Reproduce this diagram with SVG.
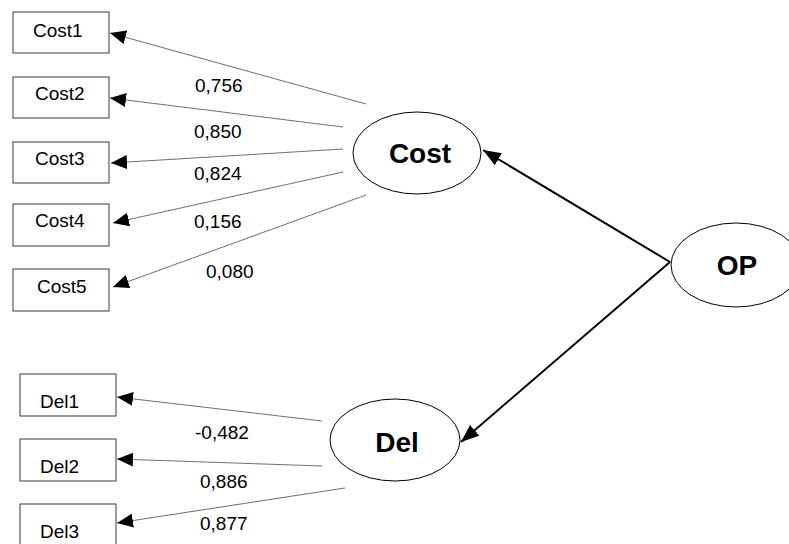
<svg xmlns="http://www.w3.org/2000/svg" width="789" height="544" viewBox="0 0 789 544">
  <style>
    .box { fill: #ffffff; stroke: #3a3a3a; stroke-width: 1; }
    .lat { fill: #ffffff; stroke: #000000; stroke-width: 1; }
    .ind { font-family: "Liberation Sans", Arial, sans-serif; font-size: 19px; fill: #000000; }
    .latt { font-family: "Liberation Sans", Arial, sans-serif; font-size: 28px; font-weight: bold; fill: #000000; text-anchor: middle; }
    .load { font-family: "Liberation Sans", Arial, sans-serif; font-size: 19px; fill: #000000; }
    .thin { stroke: #4a4a4a; stroke-width: 0.8; fill: none; marker-end: url(#headSmall); }
    .thick { stroke: #000000; stroke-width: 2; fill: none; marker-end: url(#headBig); }
  </style>
  <defs>
    <marker id="headSmall" viewBox="0 0 16 14" refX="16" refY="7" markerWidth="16" markerHeight="14" markerUnits="userSpaceOnUse" orient="auto">
      <path d="M0,0 L16,7 L0,14 Z" fill="#000000"/>
    </marker>
    <marker id="headBig" viewBox="0 0 18 14" refX="18" refY="7" markerWidth="18" markerHeight="14" markerUnits="userSpaceOnUse" orient="auto">
      <path d="M0,0 L18,7 L0,14 Z" fill="#000000"/>
    </marker>
  </defs>
  <rect width="789" height="544" fill="#ffffff"/>

  <g id="connectors">
    <line class="thin" x1="366" y1="104" x2="110" y2="33"/>
    <line class="thin" x1="343" y1="127" x2="110" y2="98"/>
    <line class="thin" x1="343" y1="149" x2="111" y2="163"/>
    <line class="thin" x1="343" y1="172" x2="113" y2="223"/>
    <line class="thin" x1="366" y1="195" x2="113" y2="287"/>
    <line class="thin" x1="322" y1="421" x2="117" y2="397"/>
    <line class="thin" x1="322" y1="466" x2="117" y2="459"/>
    <line class="thin" x1="345" y1="488" x2="117" y2="523"/>
    <line class="thick" x1="670" y1="262" x2="483" y2="150"/>
    <line class="thick" x1="670" y1="262" x2="461" y2="442"/>
  </g>

  <g id="cost1"><rect class="box" x="13" y="12" width="96" height="41"/><text class="ind" x="33" y="37">Cost1</text></g>
  <g id="cost2"><rect class="box" x="13" y="77" width="96" height="41"/><text class="ind" x="35" y="100">Cost2</text></g>
  <g id="cost3"><rect class="box" x="13" y="142" width="96" height="41"/><text class="ind" x="35" y="165">Cost3</text></g>
  <g id="cost4"><rect class="box" x="13" y="204" width="96" height="42"/><text class="ind" x="35" y="227">Cost4</text></g>
  <g id="cost5"><rect class="box" x="13" y="269" width="96" height="42"/><text class="ind" x="37" y="293">Cost5</text></g>

  <g id="del1"><rect class="box" x="20" y="374" width="96" height="42"/><text class="ind" x="40" y="408">Del1</text></g>
  <g id="del2"><rect class="box" x="20" y="439" width="96" height="42"/><text class="ind" x="40" y="473">Del2</text></g>
  <g id="del3"><rect class="box" x="20" y="504" width="96" height="45"/><text class="ind" x="40" y="538">Del3</text></g>

  <g id="cost"><ellipse class="lat" cx="417" cy="153" rx="64" ry="41"/><text class="latt" x="420" y="163">Cost</text></g>
  <g id="op"><ellipse class="lat" cx="736" cy="265" rx="65" ry="42"/><text class="latt" x="737" y="275">OP</text></g>
  <g id="del"><ellipse class="lat" cx="395" cy="440" rx="65" ry="41"/><text class="latt" x="397" y="452">Del</text></g>

  <g id="loadings">
    <text class="load" x="195" y="92">0,756</text>
    <text class="load" x="194" y="138">0,850</text>
    <text class="load" x="194" y="180">0,824</text>
    <text class="load" x="194" y="228">0,156</text>
    <text class="load" x="206" y="278">0,080</text>
    <text class="load" x="195" y="439">-0,482</text>
    <text class="load" x="200" y="488">0,886</text>
    <text class="load" x="200" y="530">0,877</text>
  </g>
</svg>
